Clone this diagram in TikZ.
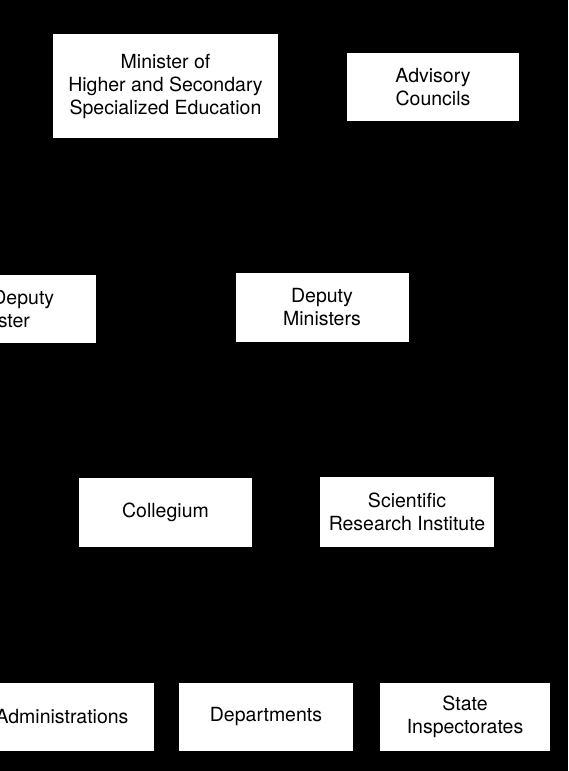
\documentclass[tikz,border=0pt]{standalone}
\usepackage{fontspec}
\setmainfont{TeX Gyre Heros}

\tikzset{
    unit/.style={fill=white, inner sep=2pt, align=center, text=black,
        minimum width=173pt, minimum height=69pt,
        font=\fontsize{19.5}{23}\selectfont}
}

\begin{document}
\begin{tikzpicture}[x=1pt, y=-1pt]
    \useasboundingbox (0, 0) rectangle (568, 771);
    \fill [black] (0, 0) rectangle (568, 771);
    \clip (0, 0) rectangle (568, 771);

    \coordinate (M) at (165.5, 86);
    \coordinate (A) at (433, 87);
    \coordinate (F) at (-4, 309);
    \coordinate (D) at (322, 307.5);
    \coordinate (C) at (165.5, 512.5);
    \coordinate (S) at (407, 512);
    \coordinate (P1) at (62, 717);
    \coordinate (P2) at (266, 717);
    \coordinate (P3) at (465, 717);

    \node [unit, minimum width=225pt, minimum height=104pt] (minister) at (M)
        {Minister of\\Higher and Secondary\\Specialized Education};
    \node [unit, minimum width=172pt, minimum height=68pt] (advisory) at (A)
        {Advisory\\Councils};

    \node [unit, minimum width=200pt, minimum height=68pt] (firstdeputy) at (F)
        {\hspace*{2.8em}Deputy\\Minister};
    \node [unit] (deputies) at (D) {Deputy\\Ministers};

    \node [unit] (collegium) at (C) {Collegium};
    \node [unit, minimum width=174pt, minimum height=70pt] (institute) at (S)
        {Scientific\\Research Institute};

    \node [unit, minimum width=184pt, minimum height=68pt] (administrations) at (P1)
        {Administrations};
    \node [unit, minimum width=174pt, minimum height=68pt] (departments) at (P2)
        {Departments};
    \node [unit, minimum width=170pt, minimum height=68pt] (inspectorates) at (P3)
        {State\\Inspectorates};
  \end{tikzpicture}
\end{document}
